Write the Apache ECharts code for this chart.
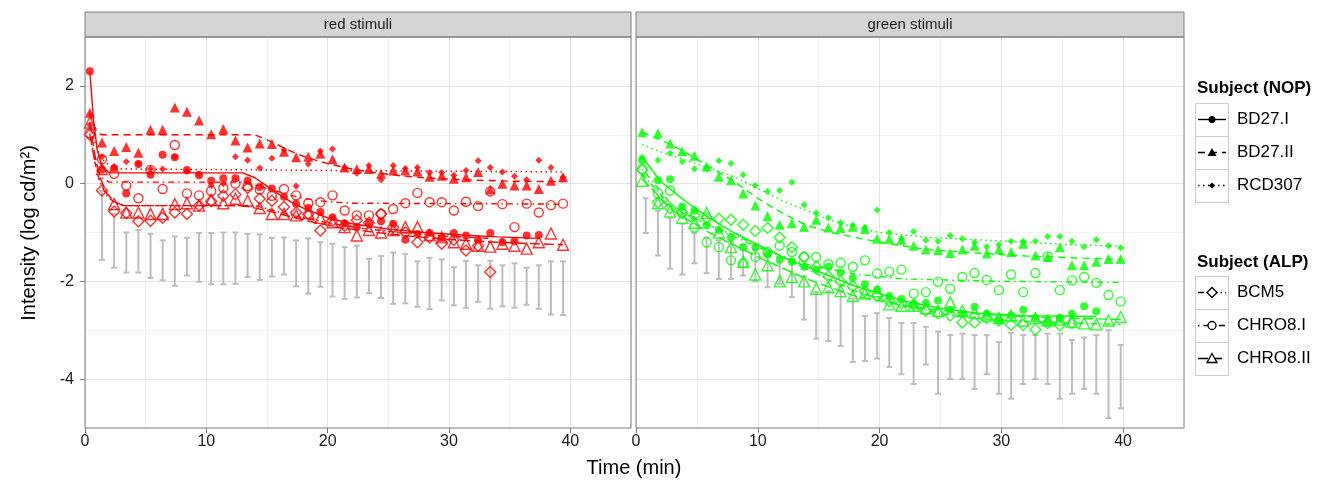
<!DOCTYPE html>
<html><head><meta charset="utf-8">
<script src="https://cdn.jsdelivr.net/npm/echarts@6/dist/echarts.min.js"></script>
<style>html,body{margin:0;padding:0;background:#fff}#c{width:1335px;height:488px}</style>
</head><body><div id="c"></div>
<script>
// ---------------- data ----------------
const panelTitles = ['red stimuli', 'green stimuli'];
const subjectsNOP = ['BD27.I', 'BD27.II', 'RCD307'];
const subjectsALP = ['BCM5', 'CHRO8.I', 'CHRO8.II'];
const xTicks = [0, 10, 20, 30, 40];
const yTicks = [-4, -2, 0, 2];

const redTime = [0.4,1.4,2.4,3.4,4.4,5.4,6.4,7.4,8.4,9.4,10.4,11.4,12.4,13.4,14.4,15.4,16.4,17.4,18.4,19.4,20.4,21.4,22.4,23.4,24.4,25.4,26.4,27.4,28.4,29.4,30.4,31.4,32.4,33.4,34.4,35.4,36.4,37.4,38.4,39.4];
const greenTime = [0.5,1.8,2.8,3.8,4.8,5.8,6.8,7.8,8.8,9.8,10.8,11.8,12.8,13.8,14.8,15.8,16.8,17.8,18.8,19.8,20.8,21.8,22.8,23.8,24.8,25.8,26.8,27.8,28.8,29.8,30.8,31.8,32.8,33.8,34.8,35.8,36.8,37.8,38.8,39.8];

// red stimuli – measured points
const red_BD27I = [2.3,0.29,0.31,-0.2,0.4,0.18,0.59,0.54,0.28,0.17,0.06,0.11,0.11,0.06,-0.07,-0.1,-0.27,-0.41,-0.5,-0.58,-0.69,-0.81,-0.89,-0.81,-0.77,-0.82,-1.15,-1.03,-1.01,-1.11,-1.01,-1.06,-1.15,-1.01,-1.2,-1.18,-1.06,-1.05];
const red_BD27II = [1.45,0.84,0.67,0.75,0.63,1.1,1.1,1.56,1.47,1.29,1.01,1.12,0.88,0.74,0.82,0.81,0.65,0.54,0.55,0.61,0.5,0.33,0.3,0.3,0.2,0.27,0.27,0.25,0.14,0.16,0.1,0.13,0.24,-0.12,0.0,-0.04,-0.04,-0.11,0.06,0.13];
const red_RCD307 = [1.2,0.55,0.35,0.45,0.41,0.3,0.3,0.55,0.25,0.2,-0.04,0.0,0.55,0.48,0.32,0.52,0.69,-0.05,0.4,0.67,0.71,0.33,0.21,0.37,0.08,0.37,0.31,0.33,0.23,0.23,0.17,0.27,0.47,0.33,0.24,0.15,0.08,0.48,0.33,0.13];
const red_BCM5 = [1.0,-0.14,-0.57,-0.6,-0.77,-0.76,-0.7,-0.59,-0.62,-0.45,-0.36,-0.25,-0.22,-0.09,-0.31,-0.35,-0.48,-0.59,-0.62,-0.96,-0.76,-0.86,-0.75,-0.8,-0.62,-0.9,-1.0,-1.2,-1.1,-1.23,-1.15,-1.37,-1.27,-1.81];
const red_CHRO8I = [1.03,0.5,0.2,-0.04,-0.3,0.28,-0.11,0.79,-0.2,-0.24,-0.15,-0.09,0.0,-0.05,-0.12,-0.25,-0.11,-0.24,-0.4,-0.38,-0.24,-0.55,-0.65,-0.65,-0.62,-0.52,-0.4,-0.19,-0.38,-0.38,-0.55,-0.37,-0.46,-0.16,-0.42,-0.89,-0.41,-0.59,-0.44,-0.41];
const red_CHRO8II = [1.25,0.3,-0.42,-0.59,-0.59,-0.62,-0.62,-0.42,-0.4,-0.45,-0.33,-0.4,-0.31,-0.35,-0.5,-0.62,-0.62,-0.65,-0.6,-0.7,-0.79,-0.89,-1.06,-0.95,-1.0,-0.95,-0.89,-0.89,-1.05,-1.1,-1.2,-1.23,-1.27,-1.29,-1.23,-1.27,-1.33,-1.2,-1.02,-1.25];

// red stimuli – fitted curves
const redFit_BD27I_t = [0.4,0.7,1.0,1.4,2.0,13.0,14.0,15.0,16.0,17.0,18.0,19.0,20.0,22.0,25.0,28.0,31.0,34.0,37.4];
const redFit_BD27I_v = [2.3,1.3,0.7,0.35,0.22,0.22,0.12,-0.05,-0.22,-0.38,-0.5,-0.6,-0.7,-0.82,-0.93,-1.0,-1.05,-1.09,-1.12];
const redFit_BD27II_t = [0.4,0.7,1.0,1.4,14.0,15.0,16.0,17.0,18.0,19.0,20.0,22.0,24.0,26.0,28.0,31.0,35.0,39.4];
const redFit_BD27II_v = [1.45,1.2,1.05,1.0,1.0,0.9,0.78,0.66,0.56,0.48,0.41,0.3,0.22,0.16,0.12,0.08,0.05,0.04];
const redFit_RCD307_t = [0.4,0.8,1.2,1.6,2.2,3.0,20.0,39.4];
const redFit_RCD307_v = [1.25,0.85,0.6,0.45,0.35,0.3,0.27,0.24];
const redFit_BCM5_t = [0.4,0.8,1.2,1.8,2.5,3.2,14.0,16.0,18.0,20.0,23.0,26.0,30.0,33.4];
const redFit_BCM5_v = [1.0,0.45,0.05,-0.25,-0.4,-0.45,-0.45,-0.58,-0.7,-0.8,-0.92,-1.0,-1.08,-1.12];
const redFit_CHRO8I_t = [0.4,0.7,1.0,1.4,2.0,13.0,14.0,15.0,16.0,17.0,18.0,19.0,20.0,22.0,39.4];
const redFit_CHRO8I_v = [1.03,0.6,0.3,0.12,0.03,0.03,-0.03,-0.1,-0.17,-0.24,-0.3,-0.34,-0.37,-0.4,-0.42];
const redFit_CHRO8II_t = [0.4,0.8,1.2,1.8,2.5,3.2,13.0,15.0,17.0,19.0,21.0,24.0,27.0,30.0,34.0,39.4];
const redFit_CHRO8II_v = [1.25,0.6,0.15,-0.2,-0.38,-0.45,-0.45,-0.55,-0.68,-0.8,-0.9,-1.0,-1.08,-1.14,-1.2,-1.25];

// green stimuli – measured points
const green_BD27I = [0.48,0.07,0.09,-0.47,-0.55,-0.85,-0.95,-1.1,-1.3,-1.3,-1.45,-1.56,-1.6,-1.7,-1.76,-1.7,-1.82,-1.93,-2.06,-2.17,-2.3,-2.36,-2.47,-2.44,-2.39,-2.58,-2.66,-2.52,-2.66,-2.8,-2.7,-2.58,-2.75,-2.83,-2.75,-2.66,-2.51,-2.61];
const green_BD27II = [1.05,1.03,0.82,0.66,0.57,0.35,0.14,0.07,-0.2,-0.45,-0.66,-0.84,-0.81,-0.88,-0.74,-0.9,-0.91,-0.88,-0.93,-1.13,-1.13,-1.15,-1.27,-1.35,-1.36,-1.42,-1.35,-1.27,-1.43,-1.35,-1.4,-1.23,-1.47,-1.5,-1.3,-1.67,-1.67,-1.6,-1.54,-1.54];
const green_RCD307 = [0.54,0.48,0.62,0.45,0.3,0.3,0.47,0.41,0.18,-0.04,-0.16,-0.14,0.03,-0.43,-0.6,-0.7,-0.8,-0.85,-0.9,-0.54,-1.0,-1.13,-0.98,-1.16,-1.18,-1.06,-1.13,-1.2,-1.29,-1.25,-1.18,-1.18,-1.18,-1.08,-1.08,-1.18,-1.29,-1.15,-1.27,-1.31];
const green_BCM5 = [0.28,-0.38,-0.5,-0.6,-0.65,-0.7,-0.72,-0.74,-0.84,-0.97,-0.91,-1.1,-1.3,-1.5,-1.7,-1.9,-2.0,-2.1,-2.2,-2.3,-2.4,-2.45,-2.48,-2.6,-2.65,-2.7,-2.84,-2.84,-2.75,-2.8,-2.89,-2.89,-2.99,-2.85,-2.9,-2.85];
const green_CHRO8I = [0.3,-0.2,-0.14,-0.6,-0.9,-1.2,-1.3,-1.57,-1.63,-1.5,-1.4,-1.27,-1.4,-1.5,-1.5,-1.65,-1.62,-1.7,-1.57,-1.84,-1.8,-1.76,-2.25,-2.22,-2.01,-2.15,-1.91,-1.83,-1.97,-2.18,-1.86,-2.22,-1.83,-1.49,-2.18,-1.98,-1.91,-2.03,-2.28,-2.41];
const green_CHRO8II = [0.06,-0.4,-0.57,-0.7,-0.8,-0.6,-1.0,-1.3,-1.6,-1.86,-1.67,-2.0,-1.91,-2.0,-2.15,-2.12,-2.2,-2.3,-2.25,-2.2,-2.47,-2.5,-2.5,-2.55,-2.6,-2.43,-2.6,-2.65,-2.7,-2.75,-2.7,-2.8,-2.75,-2.8,-2.78,-2.83,-2.86,-2.88,-2.8,-2.73];

// green stimuli – fitted curves
const greenFit_BD27I_t = [0.5,2,4,6,8,10,12,14,16,18,20,22,25,28,32,37.8];
const greenFit_BD27I_v = [0.55,0.05,-0.35,-0.7,-1.0,-1.25,-1.5,-1.7,-1.9,-2.1,-2.25,-2.4,-2.55,-2.65,-2.7,-2.72];
const greenFit_BD27II_t = [0.5,2,4,6,8,10,12,14,16,18,20,24,28,32,36,39.8];
const greenFit_BD27II_v = [1.05,0.9,0.65,0.35,0.05,-0.3,-0.6,-0.85,-1.0,-1.1,-1.2,-1.35,-1.42,-1.48,-1.52,-1.55];
const greenFit_RCD307_t = [0.5,2,5,8,10,12,14,16,18,20,24,28,32,36,39.8];
const greenFit_RCD307_v = [0.8,0.65,0.4,0.15,-0.1,-0.35,-0.55,-0.75,-0.9,-1.0,-1.1,-1.15,-1.2,-1.25,-1.28];
const greenFit_BCM5_t = [0.5,3,6,10,14,18,22,26,30,35,39.8];
const greenFit_BCM5_v = [0.2,-0.5,-0.85,-1.25,-1.75,-2.2,-2.5,-2.7,-2.8,-2.85,-2.88];
const greenFit_CHRO8I_t = [0.5,3,6,10,14,18,22,30,39.8];
const greenFit_CHRO8I_v = [0.3,-0.45,-0.85,-1.3,-1.65,-1.85,-1.95,-2.0,-2.02];
const greenFit_CHRO8II_t = [0.5,3,6,10,14,18,22,26,30,35,39.8];
const greenFit_CHRO8II_v = [0.1,-0.55,-1.0,-1.5,-1.95,-2.3,-2.5,-2.62,-2.7,-2.75,-2.78];

// normal-observer ranges (grey error bars)
const redBarTime = [1.4,2.4,3.4,4.4,5.4,6.4,7.4,8.4,9.4,10.4,11.4,12.4,13.4,14.4,15.4,16.4,17.4,18.4,19.4,20.4,21.4,22.4,23.4,24.4,25.4,26.4,27.4,28.4,29.4,30.4,31.4,32.4,33.4,34.4,35.4,36.4,37.4,38.4,39.4];
const redBarHigh = [-0.15,-0.62,-1.0,-0.95,-1.03,-1.16,-1.08,-1.11,-1.01,-1.01,-1.0,-1.0,-1.03,-1.04,-1.11,-1.1,-1.16,-1.12,-1.2,-1.23,-1.3,-1.27,-1.54,-1.48,-1.41,-1.44,-1.59,-1.52,-1.55,-1.71,-1.58,-1.67,-1.58,-1.67,-1.63,-1.72,-1.67,-1.59,-1.59];
const redBarLow = [-1.56,-1.72,-1.82,-1.82,-1.93,-1.98,-2.09,-1.88,-2.01,-2.06,-2.06,-2.05,-1.91,-1.97,-1.9,-1.86,-2.1,-2.25,-2.11,-2.31,-2.36,-2.33,-2.24,-2.34,-2.46,-2.45,-2.52,-2.57,-2.39,-2.49,-2.54,-2.42,-2.56,-2.51,-2.54,-2.48,-2.56,-2.68,-2.69];
const greenBarTime = [0.8,1.8,2.8,3.8,4.8,5.8,6.8,7.8,8.8,9.8,10.8,11.8,12.8,13.8,14.8,15.8,16.8,17.8,18.8,19.8,20.8,21.8,22.8,23.8,24.8,25.8,26.8,27.8,28.8,29.8,30.8,31.8,32.8,33.8,34.8,35.8,36.8,37.8,38.8,39.8];
const greenBarHigh = [-0.3,-0.55,-0.7,-0.82,-1.01,-1.1,-1.16,-1.2,-1.25,-1.35,-1.45,-1.5,-1.6,-1.9,-2.22,-2.2,-2.22,-2.35,-2.71,-2.65,-2.75,-2.85,-2.85,-2.93,-3.03,-3.1,-3.07,-3.1,-3.1,-3.24,-3.05,-3.1,-3.1,-3.07,-3.07,-3.2,-3.15,-3.1,-3.0,-3.3];
const greenBarLow = [-1.01,-1.47,-1.74,-1.86,-1.63,-1.83,-1.95,-1.95,-1.88,-2.0,-2.12,-2.05,-2.32,-2.78,-3.17,-3.22,-3.32,-3.65,-3.63,-3.58,-3.75,-3.9,-4.1,-3.7,-4.3,-4.0,-4.0,-4.2,-3.9,-4.3,-4.4,-4.1,-4.0,-4.1,-4.4,-4.3,-4.2,-4.3,-4.8,-4.6];

// ---------------- styling ----------------
const FONT = 'Liberation Sans, Arial, sans-serif';
const panelColors = ['#ff0000', '#00ff00'];
const subjStyle = {
  'BD27.I':   {symbol: 'circle',   size: 8,  open: false, dash: 'solid'},
  'BD27.II':  {symbol: 'triangle', size: 10, open: false, dash: [7, 5]},
  'RCD307':   {symbol: 'diamond',  size: 7,  open: false, dash: [1.5, 3.5]},
  'BCM5':     {symbol: 'diamond',  size: 11, open: true,  dash: [6, 3, 1.5, 3]},
  'CHRO8.I':  {symbol: 'circle',   size: 9,  open: true,  dash: [1.5, 4, 6, 4]},
  'CHRO8.II': {symbol: 'triangle', size: 11, open: true,  dash: [10, 4]}
};
const panelPoints = [
  {'BD27.I': red_BD27I, 'BD27.II': red_BD27II, 'RCD307': red_RCD307, 'BCM5': red_BCM5, 'CHRO8.I': red_CHRO8I, 'CHRO8.II': red_CHRO8II},
  {'BD27.I': green_BD27I, 'BD27.II': green_BD27II, 'RCD307': green_RCD307, 'BCM5': green_BCM5, 'CHRO8.I': green_CHRO8I, 'CHRO8.II': green_CHRO8II}
];
const panelFits = [
  {'BD27.I': [redFit_BD27I_t, redFit_BD27I_v], 'BD27.II': [redFit_BD27II_t, redFit_BD27II_v], 'RCD307': [redFit_RCD307_t, redFit_RCD307_v],
   'BCM5': [redFit_BCM5_t, redFit_BCM5_v], 'CHRO8.I': [redFit_CHRO8I_t, redFit_CHRO8I_v], 'CHRO8.II': [redFit_CHRO8II_t, redFit_CHRO8II_v]},
  {'BD27.I': [greenFit_BD27I_t, greenFit_BD27I_v], 'BD27.II': [greenFit_BD27II_t, greenFit_BD27II_v], 'RCD307': [greenFit_RCD307_t, greenFit_RCD307_v],
   'BCM5': [greenFit_BCM5_t, greenFit_BCM5_v], 'CHRO8.I': [greenFit_CHRO8I_t, greenFit_CHRO8I_v], 'CHRO8.II': [greenFit_CHRO8II_t, greenFit_CHRO8II_v]}
];
const panelTimes = [redTime, greenTime];
const panelBars = [[redBarTime, redBarLow, redBarHigh], [greenBarTime, greenBarLow, greenBarHigh]];

const grids = [
  {left: 85, top: 37, width: 546, height: 391},
  {left: 636, top: 37, width: 548, height: 391}
];

const zip = (a, b) => b.map((v, i) => [a[i], v]);

const xAxes = [], yAxes = [], series = [];
grids.forEach((g, p) => {
  // visible axes
  xAxes.push({type: 'value', gridIndex: p, min: 0, max: 45, position: 'bottom',
    axisLine: {show: false, onZero: false},
    axisTick: {show: true, customValues: xTicks, length: 5, lineStyle: {color: '#7f7f7f'}},
    axisLabel: {show: true, customValues: xTicks, color: '#1a1a1a', fontSize: 16, fontFamily: FONT, margin: 6,
      formatter: v => (xTicks.indexOf(v) >= 0 ? String(v) : '')},
    splitLine: {show: false}});
  yAxes.push({type: 'value', gridIndex: p, min: -5, max: 3, position: 'left',
    axisLine: {show: false, onZero: false},
    axisTick: {show: p === 0, customValues: yTicks, length: 5, lineStyle: {color: '#7f7f7f'}},
    axisLabel: {show: p === 0, customValues: yTicks, color: '#1a1a1a', fontSize: 16, fontFamily: FONT, margin: 11,
      formatter: v => (yTicks.indexOf(v) >= 0 ? String(v) : '')},
    splitLine: {show: false}});
});
grids.forEach((g, p) => {
  // grid-line axes (major + minor)
  xAxes.push({type: 'value', gridIndex: p, min: 0, max: 45, interval: 5, position: 'bottom',
    axisLine: {show: false, onZero: false}, axisTick: {show: false}, axisLabel: {show: false},
    splitLine: {show: true, lineStyle: {color: ['#e3e3e3', '#f2f2f2'], width: 1}}});
  yAxes.push({type: 'value', gridIndex: p, min: -5, max: 3, interval: 1, position: 'left',
    axisLine: {show: false, onZero: false}, axisTick: {show: false}, axisLabel: {show: false},
    splitLine: {show: true, lineStyle: {color: ['#f2f2f2', '#e3e3e3'], width: 1}}});
});

function renderBar(params, api) {
  const a = api.coord([api.value(0), api.value(1)]);
  const b = api.coord([api.value(0), api.value(2)]);
  const w = 3;
  const st = {stroke: '#bdbdbd', lineWidth: 2};
  return {type: 'group', children: [
    {type: 'line', shape: {x1: a[0], y1: a[1], x2: b[0], y2: b[1]}, style: st},
    {type: 'line', shape: {x1: a[0] - w, y1: a[1], x2: a[0] + w, y2: a[1]}, style: st},
    {type: 'line', shape: {x1: b[0] - w, y1: b[1], x2: b[0] + w, y2: b[1]}, style: st}
  ]};
}

[0, 1].forEach(p => {
  const [bt, bl, bh] = panelBars[p];
  series.push({type: 'custom', name: 'range' + p, xAxisIndex: p, yAxisIndex: p, z: 1,
    renderItem: renderBar, encode: {x: 0, y: [1, 2]}, silent: true,
    data: bt.map((t, i) => [t, bl[i], bh[i]])});
  const col = panelColors[p];
  subjectsNOP.concat(subjectsALP).forEach(s => {
    const st = subjStyle[s];
    const fit = panelFits[p][s];
    series.push({type: 'line', name: s, xAxisIndex: p, yAxisIndex: p, z: 3, showSymbol: false, silent: true,
      lineStyle: {color: col, width: 1.4, type: st.dash},
      data: zip(fit[0], fit[1])});
    series.push({type: 'scatter', name: s, xAxisIndex: p, yAxisIndex: p, z: 4, silent: true,
      symbol: st.symbol, symbolSize: st.size,
      itemStyle: st.open ? {color: 'rgba(255,255,255,0)', borderColor: col, borderWidth: 1.4} : {color: col},
      data: zip(panelTimes[p], panelPoints[p][s])});
  });
});

// ---------------- graphics: strips, titles, legend ----------------
const graphic = [];
grids.forEach((g, p) => {
  graphic.push({type: 'rect', shape: {x: g.left, y: 12, width: g.width, height: 25},
    style: {fill: '#d4d4d4', stroke: '#7f7f7f', lineWidth: 1}, z: 10});
  graphic.push({type: 'text', x: g.left + g.width / 2, y: 25,
    style: {text: panelTitles[p], fill: '#1a1a1a', font: '15px ' + FONT, textAlign: 'center', textVerticalAlign: 'middle'}, z: 11});
  graphic.push({type: 'rect', shape: {x: g.left, y: g.top, width: g.width, height: g.height},
    style: {fill: 'none', stroke: '#7f7f7f', lineWidth: 1}, z: 10});
});
graphic.push({type: 'text', x: 634, y: 468,
  style: {text: 'Time (min)', fill: '#000', font: '20px ' + FONT, textAlign: 'center', textVerticalAlign: 'middle'}});
graphic.push({type: 'text', x: 29, y: 233, rotation: Math.PI / 2,
  style: {text: 'Intensity (log cd/m\u00b2)', fill: '#000', font: '20px ' + FONT, textAlign: 'center', textVerticalAlign: 'middle'}});

function symbolShape(kind, open, cx, cy, sz) {
  const style = open ? {fill: '#fff', stroke: '#000', lineWidth: 1.3} : {fill: '#000'};
  const h = sz / 2;
  if (kind === 'circle') return {type: 'circle', shape: {cx, cy, r: h}, style, z: 21};
  if (kind === 'triangle') return {type: 'polygon', shape: {points: [[cx, cy - h], [cx + h, cy + h * 0.8], [cx - h, cy + h * 0.8]]}, style, z: 21};
  return {type: 'polygon', shape: {points: [[cx, cy - h], [cx + h, cy], [cx, cy + h], [cx - h, cy]]}, style, z: 21};
}
function legendBlock(title, subs, titleY, firstTop) {
  graphic.push({type: 'text', x: 1197, y: titleY,
    style: {text: title, fill: '#000', font: 'bold 17px ' + FONT, textVerticalAlign: 'middle'}});
  subs.forEach((s, i) => {
    const top = firstTop + i * 33;
    const cy = top + 16.5;
    const st = subjStyle[s];
    graphic.push({type: 'rect', shape: {x: 1195.5, y: top + 0.5, width: 33, height: 33},
      style: {fill: '#fff', stroke: '#cccccc', lineWidth: 1}, z: 19});
    graphic.push({type: 'line', shape: {x1: 1198, y1: cy, x2: 1226, y2: cy},
      style: {stroke: '#000', lineWidth: 1.4, lineDash: st.dash === 'solid' ? null : st.dash}, z: 20});
    graphic.push(symbolShape(st.symbol, st.open, 1212, cy, st.size - 1));
    graphic.push({type: 'text', x: 1237, y: cy,
      style: {text: s, fill: '#000', font: '17px ' + FONT, textVerticalAlign: 'middle'}});
  });
}
legendBlock('Subject (NOP)', subjectsNOP, 88, 103);
legendBlock('Subject (ALP)', subjectsALP, 262, 276);

const chart = echarts.init(document.getElementById('c'), null, {renderer: 'canvas'});
chart.setOption({
  animation: false,
  backgroundColor: '#ffffff',
  grid: grids.map(g => Object.assign({show: true, backgroundColor: '#fff', borderWidth: 0}, g)),
  xAxis: xAxes,
  yAxis: yAxes,
  series: series,
  graphic: graphic
});
</script>
</body></html>
